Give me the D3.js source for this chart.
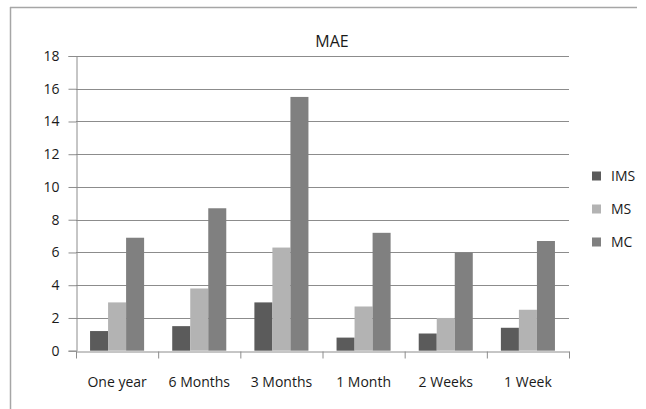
<!DOCTYPE html>
<html>
<head>
<meta charset="utf-8">
<script src="https://cdn.jsdelivr.net/npm/d3@7"></script>
<style>
  html, body { margin: 0; padding: 0; background: #fff; }
  svg { display: block; }
  text { font-family: "Open Sans", "Liberation Sans", sans-serif; fill: #1a1a1a; }
</style>
</head>
<body>
<svg id="chart" width="646" height="409"></svg>
<script>
const title = "MAE";
const categories = ["One year", "6 Months", "3 Months", "1 Month", "2 Weeks", "1 Week"];
const seriesNames = ["IMS", "MS", "MC"];
const IMS = [1.2, 1.5, 2.95, 0.8, 1.05, 1.4];
const MS = [2.95, 3.8, 6.3, 2.7, 2.0, 2.5];
const MC = [6.9, 8.7, 15.5, 7.2, 6.0, 6.7];
const yTicks = [0, 2, 4, 6, 8, 10, 12, 14, 16, 18];
const colors = ["#5b5b5b", "#b3b3b3", "#808080"];

const seriesValues = [IMS, MS, MC];
const svg = d3.select("#chart");

// outer frame (top + left visible)
svg.append("line").attr("x1", 10).attr("x2", 637).attr("y1", 7.5).attr("y2", 7.5)
  .attr("stroke", "#a6a6a6").attr("stroke-width", 1.5);
svg.append("line").attr("x1", 10.5).attr("x2", 10.5).attr("y1", 7).attr("y2", 409)
  .attr("stroke", "#a6a6a6").attr("stroke-width", 1.5);

const plot = { left: 76, right: 569, top: 56, bottom: 350.7 };

const x0 = d3.scaleBand().domain(categories).range([plot.left, plot.right]).paddingInner(0).paddingOuter(0);
const x1 = d3.scaleBand().domain(seriesNames).range([0, x0.bandwidth()]).paddingInner(0).paddingOuter(0.78);
const y = d3.scaleLinear().domain([0, 18]).range([plot.bottom, plot.top]);

// gridlines
svg.append("g").selectAll("line").data(yTicks.filter(d => d > 0)).join("line")
  .attr("x1", plot.left).attr("x2", plot.right)
  .attr("y1", d => Math.round(y(d)) + 0.5).attr("y2", d => Math.round(y(d)) + 0.5)
  .attr("stroke", "#8c8c8c").attr("stroke-width", 1);

// bars
const groups = svg.append("g").selectAll("g").data(categories).join("g")
  .attr("transform", d => `translate(${x0(d)},0)`);
groups.selectAll("rect").data((c, i) => seriesNames.map((s, j) => ({ s, v: seriesValues[j][i], j })))
  .join("rect")
  .attr("x", d => x1(d.s))
  .attr("width", x1.bandwidth())
  .attr("y", d => y(d.v))
  .attr("height", d => y(0) - y(d.v))
  .attr("fill", d => colors[d.j]);

// y axis
const yAxis = d3.axisLeft(y).tickValues(yTicks).tickSize(8).tickPadding(9).tickFormat(d3.format("d"));
const gy = svg.append("g").attr("transform", `translate(${plot.left + 0.5},0)`).call(yAxis);
gy.select(".domain").attr("stroke", "#8c8c8c");
gy.selectAll(".tick line").attr("stroke", "#8c8c8c");
gy.selectAll(".tick text").style("font-size", "14px").attr("fill", "#1a1a1a");

// x axis
const xAxis = d3.axisBottom(x0).tickSize(0).tickPadding(0);
const gx = svg.append("g").attr("transform", `translate(0,${Math.round(plot.bottom) + 0.5})`).call(xAxis);
gx.select(".domain").attr("stroke", "#8c8c8c");
gx.selectAll(".tick text").attr("y", 31).attr("dy", "0.35em").style("font-size", "14px").attr("fill", "#1a1a1a");
// category boundary ticks
gx.append("g").selectAll("line").data(categories).join("line")
  .attr("x1", d => x0(d) + x0.bandwidth() + 0.5).attr("x2", d => x0(d) + x0.bandwidth() + 0.5)
  .attr("y1", 0).attr("y2", 7).attr("stroke", "#8c8c8c");
gx.append("line").attr("x1", plot.left + 0.5).attr("x2", plot.left + 0.5).attr("y1", 0).attr("y2", 7).attr("stroke", "#8c8c8c");

// title
svg.append("text").attr("x", 332).attr("y", 47).attr("text-anchor", "middle")
  .style("font-size", "16px").text(title);

// legend
const legend = svg.append("g").selectAll("g").data(seriesNames).join("g")
  .attr("transform", (d, i) => `translate(592,${176 + i * 33})`);
legend.append("rect").attr("x", 0).attr("y", -4.5).attr("width", 9).attr("height", 9)
  .attr("fill", (d, i) => colors[i]);
legend.append("text").attr("x", 19).attr("y", 0).attr("dy", "0.35em")
  .style("font-size", "14px").text(d => d);
</script>
</body>
</html>
